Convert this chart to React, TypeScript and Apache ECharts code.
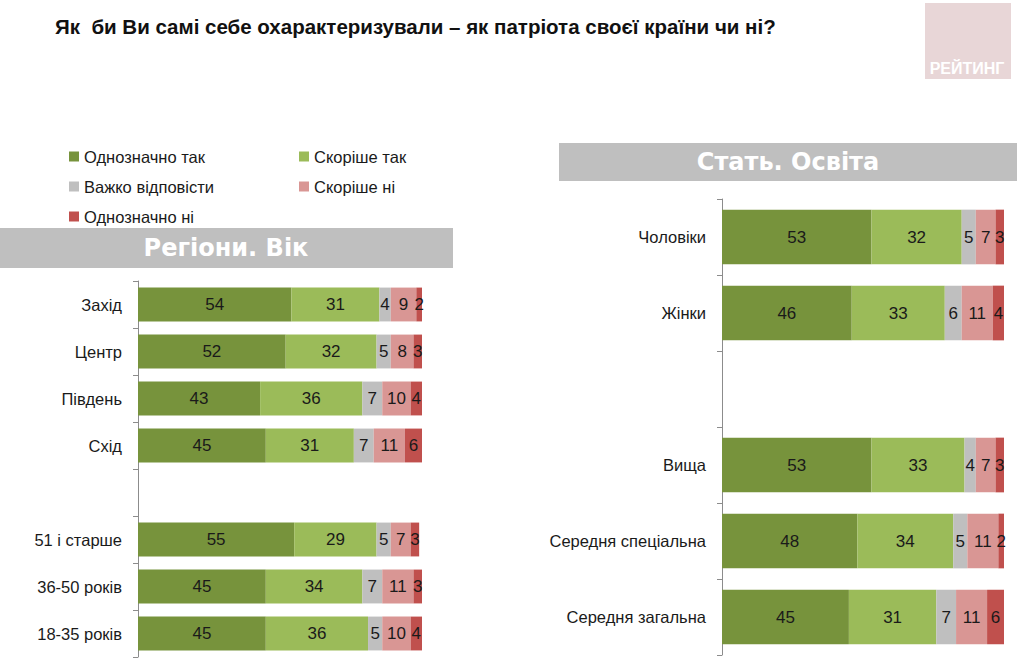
import React, { useEffect, useRef } from "react";
import * as echarts from "echarts";

const seriesNames = ["Однозначно так", "Скоріше так", "Важко відповісти", "Скоріше ні", "Однозначно ні"];
const colors = ["#77933c", "#9bbb59", "#bfbfbf", "#d99694", "#c0504d"];

const leftCategories = ["Захід", "Центр", "Південь", "Схід", "", "51 і старше", "36-50 років", "18-35 років"];
const leftDefYes = [54, 52, 43, 45, null, 55, 45, 45];
const leftRatherYes = [31, 32, 36, 31, null, 29, 34, 36];
const leftHard = [4, 5, 7, 7, null, 5, 7, 5];
const leftRatherNo = [9, 8, 10, 11, null, 7, 11, 10];
const leftDefNo = [2, 3, 4, 6, null, 3, 3, 4];

const rightCategories = ["Чоловіки", "Жінки", "", "Вища", "Середня спеціальна", "Середня загальна"];
const rightDefYes = [53, 46, null, 53, 48, 45];
const rightRatherYes = [32, 33, null, 33, 34, 31];
const rightHard = [5, 6, null, 4, 5, 7];
const rightRatherNo = [7, 11, null, 7, 11, 11];
const rightDefNo = [3, 4, null, 3, 2, 6];

const FONT = "'Liberation Sans', Arial, sans-serif";

export default function App() {
  const ref = useRef<HTMLDivElement>(null);
  useEffect(() => {
    document.body.style.margin = "0";
    const chart = echarts.init(ref.current!, null, { renderer: "svg" });
    const leftData = [leftDefYes, leftRatherYes, leftHard, leftRatherNo, leftDefNo];
    const rightData = [rightDefYes, rightRatherYes, rightHard, rightRatherNo, rightDefNo];
    const mkSeries = (data: (number | null)[][], idx: number, stack: string) =>
      data.map((d, i) => ({
        name: seriesNames[i],
        type: "bar",
        stack,
        xAxisIndex: idx,
        yAxisIndex: idx,
        barWidth: "72%",
        data: d,
        itemStyle: { color: colors[i] },
        label: {
          show: true,
          position: "inside",
          color: "#1a1a1a",
          fontSize: 17,
          fontFamily: FONT,
          formatter: (p: any) => (p.value == null ? "" : String(p.value)),
        },
      }));
    const yAxisCommon = {
      type: "category",
      inverse: true,
      axisLine: { show: true, lineStyle: { color: "#8c8c8c", width: 1 } },
      axisTick: { show: true, length: 5, lineStyle: { color: "#8c8c8c" } },
      axisLabel: { color: "#1a1a1a", fontSize: 16.5, fontFamily: FONT, margin: 16 },
      splitLine: { show: false },
    };
    const legendPos = [
      [64, 143],
      [294, 143],
      [64, 173],
      [294, 173],
      [64, 203],
    ];
    chart.setOption({
      animation: false,
      backgroundColor: "#ffffff",
      title: {
        text: "Як  би Ви самі себе охарактеризували – як патріота своєї країни чи ні?",
        left: 50,
        top: 11,
        textStyle: { fontSize: 20.5, fontWeight: "bold", color: "#111", fontFamily: FONT },
      },
      legend: seriesNames.map((n, i) => ({
        data: [n],
        left: legendPos[i][0],
        top: legendPos[i][1],
        icon: "rect",
        itemWidth: 10,
        itemHeight: 10,
        itemGap: 10,
        textStyle: { fontSize: 16.5, color: "#1a1a1a", fontFamily: FONT },
      })),
      grid: [
        { left: 138, top: 281, width: 284, height: 376 },
        { left: 722, top: 199, width: 282, height: 456 },
      ],
      xAxis: [
        { type: "value", gridIndex: 0, min: 0, max: 100, show: false },
        { type: "value", gridIndex: 1, min: 0, max: 100, show: false },
      ],
      yAxis: [
        { ...yAxisCommon, gridIndex: 0, data: leftCategories },
        { ...yAxisCommon, gridIndex: 1, data: rightCategories },
      ],
      series: [...mkSeries(leftData, 0, "L"), ...mkSeries(rightData, 1, "R")],
      graphic: [
        { type: "rect", shape: { x: 925, y: 3, width: 86, height: 76 }, style: { fill: "#e8d6d7" }, z: 0 },
        {
          type: "text",
          x: 967,
          y: 68,
          style: {
            text: "РЕЙТИНГ",
            fill: "#ffffff",
            font: "bold 16px " + FONT,
            align: "center",
            verticalAlign: "middle",
          },
        },
        { type: "rect", shape: { x: 0, y: 228, width: 453, height: 40 }, style: { fill: "#bfbfbf" } },
        {
          type: "text",
          x: 226,
          y: 248,
          style: {
            text: "Регіони. Вік",
            fill: "#ffffff",
            font: "bold 24px 'DejaVu Sans', sans-serif",
            align: "center",
            verticalAlign: "middle",
          },
        },
        { type: "rect", shape: { x: 559, y: 143, width: 458, height: 38 }, style: { fill: "#bfbfbf" } },
        {
          type: "text",
          x: 788,
          y: 162,
          style: {
            text: "Стать. Освіта",
            fill: "#ffffff",
            font: "bold 24px 'DejaVu Sans', sans-serif",
            align: "center",
            verticalAlign: "middle",
          },
        },
      ],
    });
    return () => chart.dispose();
  }, []);
  return <div ref={ref} style={{ width: 1024, height: 666 }} />;
}
